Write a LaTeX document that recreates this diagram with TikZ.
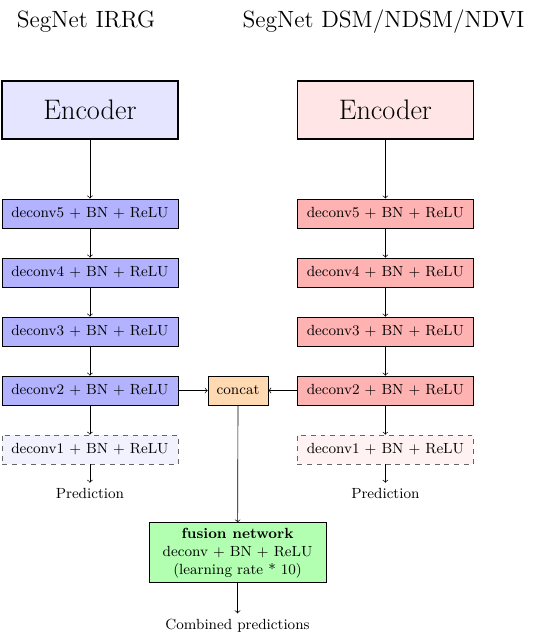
\documentclass[tikz,border=0pt]{standalone}
\usepackage{tikz}
\usetikzlibrary{arrows.meta,positioning}

\begin{document}
\begin{tikzpicture}[>=to,
  every node/.style={font=\small},
  title/.style={font=\Large},
  encoder/.style={draw, thick, minimum width=3.785cm, minimum height=1.247cm, font=\LARGE},
  layer/.style={draw, minimum width=3.785cm, minimum height=0.624cm, inner sep=1pt},
  outlayer/.style={layer, dashed, draw=black!60},
  flow/.style={->}]
  \useasboundingbox (0,0) rectangle (11.74,-13.81);

  % --- Titles ---
  \node[title] (titleL) at (1.85,-0.47) {SegNet IRRG};
  \node[title] (titleR) at (8.25,-0.47) {SegNet DSM/NDSM/NDVI};

  % --- IRRG branch ---
  \node[encoder, fill=blue!10] (encL) at (1.935,-2.365) {Encoder};
  \node[layer, fill=blue!30] (d5L) at (1.935,-4.59) {deconv5 + BN + ReLU};
  \node[layer, fill=blue!30] (d4L) at (1.935,-5.86) {deconv4 + BN + ReLU};
  \node[layer, fill=blue!30] (d3L) at (1.935,-7.13) {deconv3 + BN + ReLU};
  \node[layer, fill=blue!30] (d2L) at (1.935,-8.40) {deconv2 + BN + ReLU};
  \node[outlayer, fill=blue!5] (d1L) at (1.935,-9.67) {deconv1 + BN + ReLU};
  \node (predL) at (1.935,-10.62) {Prediction};

  % --- DSM/NDSM/NDVI branch ---
  \node[encoder, fill=red!10] (encR) at (8.29,-2.365) {Encoder};
  \node[layer, fill=red!30] (d5R) at (8.29,-4.59) {deconv5 + BN + ReLU};
  \node[layer, fill=red!30] (d4R) at (8.29,-5.86) {deconv4 + BN + ReLU};
  \node[layer, fill=red!30] (d3R) at (8.29,-7.13) {deconv3 + BN + ReLU};
  \node[layer, fill=red!30] (d2R) at (8.29,-8.40) {deconv2 + BN + ReLU};
  \node[outlayer, fill=red!5] (d1R) at (8.29,-9.67) {deconv1 + BN + ReLU};
  \node (predR) at (8.29,-10.62) {Prediction};

  % --- Fusion ---
  \node[layer, fill=orange!30, minimum width=1.29cm] (concat) at (5.12,-8.40) {concat};
  \node[draw, fill=green!30, minimum width=3.81cm, minimum height=1.29cm, align=center, inner sep=1pt]
    (fusion) at (5.11,-11.89) {\textbf{fusion network}\\deconv + BN + ReLU\\(learning rate * 10)};
  \node (comb) at (5.11,-13.46) {Combined predictions};

  % --- Connections ---
  \foreach \s in {L,R} {
    \draw[flow] (enc\s) -- (d5\s);
    \draw[flow] (d5\s) -- (d4\s);
    \draw[flow] (d4\s) -- (d3\s);
    \draw[flow] (d3\s) -- (d2\s);
    \draw[flow] (d2\s) -- (d1\s);
    \draw[flow] (d1\s) -- (pred\s);
  }
  \draw[flow] (d2L) -- (concat);
  \draw[flow] (d2R) -- (concat);
  \draw[flow] (concat) -- (fusion);
  \draw[flow] (fusion) -- (comb);
\end{tikzpicture}
\end{document}
